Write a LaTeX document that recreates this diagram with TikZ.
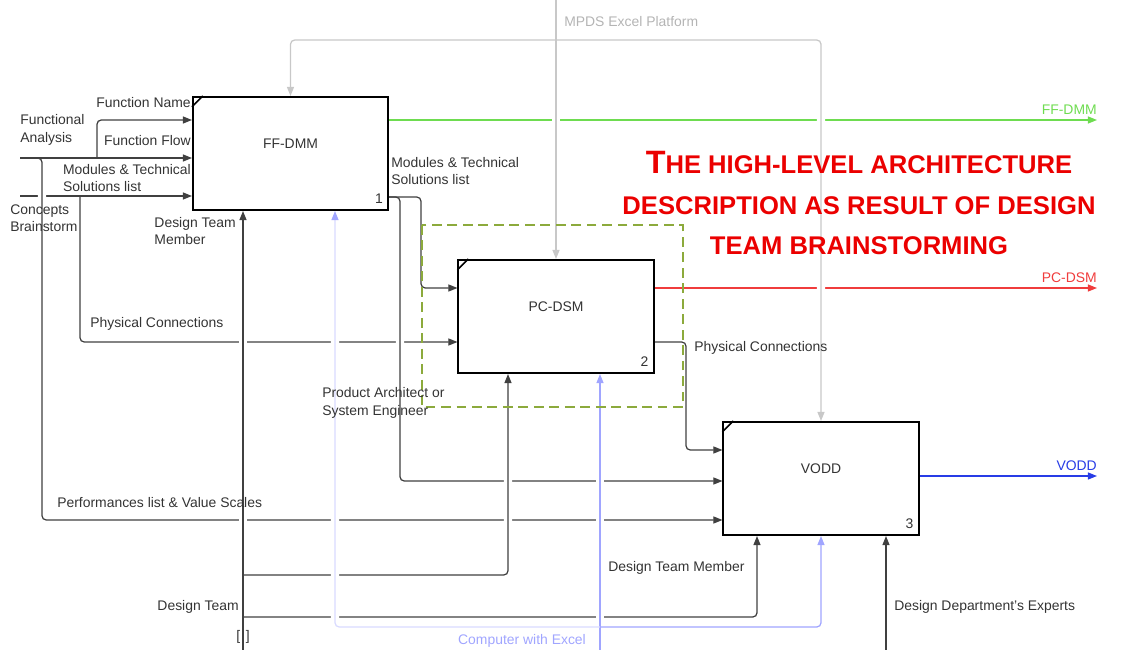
\documentclass[tikz,border=0pt]{standalone}
\usepackage{fontspec}
\setmainfont{Liberation Sans}
\usetikzlibrary{arrows.meta}

\definecolor{ffgreen}{RGB}{110,220,80}
\definecolor{pcred}{RGB}{240,60,60}
\definecolor{voblue}{RGB}{40,60,230}
\definecolor{excel}{RGB}{160,165,255}
\definecolor{mpgrey}{RGB}{200,200,200}
\definecolor{dashgreen}{RGB}{140,170,60}
\definecolor{titlered}{RGB}{235,0,0}

\pgfdeclarelayer{bg}
\pgfsetlayers{bg,main}

\tikzset{
  fbox/.style={draw=black, line width=1.4pt, fill=white, minimum width=4.875cm, minimum height=2.825cm, inner sep=0pt},
  flow/.style={draw=black!75, line width=0.9pt, -{Triangle[length=6.5pt,width=5pt]}},
  gapped/.style={preaction={draw=white, line width=6pt, arrows=-, shorten <=#1, shorten >=4pt}},
  gapped/.default=4pt,
  lbl/.style={text=black!80, font=\fontsize{9.9}{12.5}\selectfont, inner sep=0pt, align=left},
  title/.style={text=titlered, font=\bfseries\fontsize{18.2}{29}\selectfont, align=center, inner sep=0pt},
}

\begin{document}
\begin{tikzpicture}[x=0.025cm, y=-0.025cm]
\useasboundingbox (0,0) rectangle (1131,650);

% Activity boxes
\node[fbox] (ffdmm) at (290.5,153.5) {};
\node[fbox] (pcdsm) at (556,316.5) {};
\node[fbox] (vodd) at (821,478.5) {};

\foreach \b/\t/\n in {ffdmm/FF-DMM/1, pcdsm/PC-DSM/2, vodd/VODD/3} {
  \node[lbl] (t\b) at ([yshift=0.24cm]\b.center) {\t};
  \node[lbl] (n\b) at ([xshift=-0.25cm,yshift=0.3cm]\b.south east) {\n};
  \draw[line width=1.1pt] ([yshift=-0.27cm]\b.north west) -- ([xshift=0.27cm]\b.north west);
}

% Free ends
\coordinate (fa) at (20,158);
\coordinate (cb) at (20,196);
\coordinate (mp) at (556,0);
\coordinate (dt) at (243,650);
\coordinate (ce) at (600,650);
\coordinate (de) at (886,650);
\coordinate (ffout) at (1097,120);
\coordinate (pcout) at (1097,288);
\coordinate (voout) at (1097,476);

\begin{pgfonlayer}{bg}
% Inputs
\draw[flow] (cb) -- (cb -| ffdmm.west);
\draw[flow, gapped=12pt, rounded corners=3pt] (fa) -| (42,520) -- (vodd.west |- 0,520);
\draw[flow] (fa) -- (fa -| ffdmm.west);
\draw[flow, rounded corners=3pt] (97,158) |- (ffdmm.west |- 0,120);
\draw[flow, rounded corners=3pt] (80,196) |- (pcdsm.west |- 0,342);

% Outputs
\draw[flow, gapped, rounded corners=3pt] (ffdmm.east |- 0,197) -| (400,481) -- (vodd.west |- 0,481);
\draw[flow, rounded corners=3pt] (ffdmm.east |- 0,197) -| (421,288) -- (pcdsm.west |- 0,288);
\draw[flow, draw=ffgreen] (ffdmm.east |- ffout) -- (ffout);
\draw[flow, draw=pcred] (pcdsm.east |- pcout) -- (pcout);
\draw[flow, rounded corners=3pt] (pcdsm.east |- 0,342) -| (686,450) -- (vodd.west |- 0,450);
\draw[flow, draw=voblue] (vodd.east |- voout) -- (voout);

% Mechanisms
\draw[flow, gapped] (dt) -- (dt |- ffdmm.south);
\draw[flow, gapped=3pt, rounded corners=3pt] (243,575) -| (pcdsm.south -| 508,0);
\draw[flow, rounded corners=3pt] (243,617) -| (vodd.south -| 757,0);
\draw[flow, draw=excel, gapped] (ce) -- (ce |- pcdsm.south);
\draw[flow, draw=excel!40, -{Triangle[length=6.5pt,width=5pt,color=excel]}, gapped=5pt, rounded corners=3pt] (600,627) -| (ffdmm.south -| 335,0);
\draw[flow, draw=excel, rounded corners=3pt] (600,627) -| (vodd.south);
\draw[flow] (de) -- (de |- vodd.south);

% Controls
\draw[flow, draw=mpgrey, gapped] (mp) -- (pcdsm.north);
\draw[flow, draw=mpgrey, gapped=5pt, rounded corners=3pt] (556,40) -| (vodd.north);
\draw[flow, draw=mpgrey, rounded corners=3pt] (556,40) -| (ffdmm.north);

% Highlight
\draw[dashgreen, line width=1.3pt, dash pattern=on 7pt off 4pt] (422,225) rectangle (683,407);
\end{pgfonlayer}

% Arrow labels
\node[lbl, anchor=west] (lfa) at (20,130) {Functional\\Analysis};
\node[lbl, anchor=west] (lcb) at (10,218) {Concepts\\Brainstorm};
\node[lbl, anchor=east] (lfn) at (191,103) {Function Name};
\node[lbl, anchor=east] (lff) at (191,141) {Function Flow};
\node[lbl, anchor=east] (lmt) at (191,178) {Modules \& Technical\\Solutions list};
\node[lbl, anchor=west] (lpc) at (90,324) {Physical Connections};
\node[lbl, anchor=west] (lpv) at (57,503) {Performances list \& Value Scales};
\node[lbl, anchor=west] (lmo) at (391,171) {Modules \& Technical\\Solutions list};
\node[lbl, anchor=east] (ldm) at (236,231) {Design Team\\Member};
\node[lbl, anchor=west] (lpa) at (322,403) {Product Architect or\\System Engineer};
\node[lbl, anchor=west] (ldv) at (608,568) {Design Team Member};
\node[lbl, anchor=east] (ldt) at (239,607) {Design Team};
\node[lbl] (ltn) at (243,637) {[\hspace{4pt}]};
\node[lbl, anchor=west] (lde) at (894,607) {Design Department's Experts};
\node[lbl, anchor=west] (lpo) at (694,348) {Physical Connections};
\node[lbl, anchor=west, text=mpgrey!90!black] (lmp) at (564,22) {MPDS Excel Platform};
\node[lbl, anchor=east, text=ffgreen] (lgo) at (1097,110) {FF-DMM};
\node[lbl, anchor=east, text=pcred] (lro) at (1097,278) {PC-DSM};
\node[lbl, anchor=east, text=voblue] (lbo) at (1097,466) {VODD};
\node[lbl, text=excel] (lce) at (522,641) {Computer with Excel};

% Title
\node[title] (ttl) at (859,203) {{\fontsize{23}{29}\selectfont T}HE HIGH-LEVEL ARCHITECTURE\\DESCRIPTION AS RESULT OF DESIGN\\TEAM BRAINSTORMING};

\end{tikzpicture}
\end{document}
